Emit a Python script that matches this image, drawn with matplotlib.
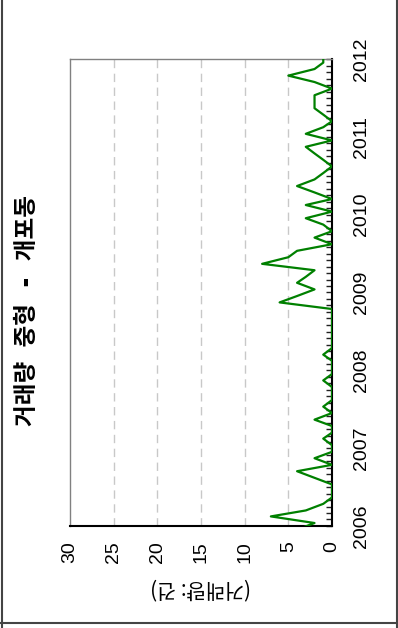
import matplotlib
matplotlib.use('Agg')
import matplotlib.pyplot as plt
import matplotlib.dates as mdates
import pandas as pd
from matplotlib.lines import Line2D

plt.rcParams['font.family'] = ['Liberation Sans', 'Noto Sans CJK KR', 'DejaVu Sans']

# ---- data (monthly transaction counts, first month = 2005-12) ----
first_month = '2005-12'
counts = [4,
          2, 7, 3, 1, 0, 0, 0, 2, 4, 0, 2, 0,      # 2006
          0, 1, 0, 0, 2, 0, 1, 0, 0, 0, 1, 0,      # 2007
          0, 0, 1, 0, 0, 0, 0, 0, 0, 0, 6, 4,      # 2008
          2, 4, 3, 2, 8, 5, 4, 0, 2, 0, 1, 3,      # 2009
          0, 3, 0, 2, 4, 2, 1, 0, 1, 2, 3, 0,      # 2010
          3, 1, 0, 1, 2, 2, 2, 0, 2, 5, 2, 1,      # 2011
          1]                                       # 2012-01
title = '거래량 중형 - 개포동'
ylabel = '(거래량: 건)'
value_ticks = [0, 5, 10, 15, 20, 25, 30]
year_ticks = [2006, 2007, 2008, 2009, 2010, 2011, 2012]

months = pd.period_range(first_month, periods=len(counts), freq='M')
dates = months.to_timestamp() + pd.Timedelta(days=14)

W, H = 398, 628
fig = plt.figure(figsize=(W / 100, H / 100), dpi=100)
ax = fig.add_axes([70 / W, (H - 526) / H, 262 / W, 467 / H])

for v in value_ticks[1:-1]:
    ax.axvline(v, color='#c8c8c8', lw=1.0, linestyle=(0, (6, 4)), zorder=1)

ax.plot(counts, dates, color='#008000', lw=1.6, zorder=3)

ax.set_xlim(value_ticks[-1], value_ticks[0])
ax.set_ylim(pd.Timestamp(f'{year_ticks[0]}-01-01'), pd.Timestamp(f'{year_ticks[-1]}-01-01'))

ax.set_xticks(value_ticks)
ax.set_xticklabels([str(v) for v in value_ticks], rotation=90, fontsize=14,
                   va='top', ha='center')
ax.tick_params(axis='x', length=0, pad=11)

ax.set_yticks([pd.Timestamp(f'{y}-01-01') for y in year_ticks])
ax.set_yticklabels([str(y) for y in year_ticks], rotation=90, fontsize=14,
                   va='center', ha='left')
ax.yaxis.set_minor_locator(mdates.MonthLocator())
ax.yaxis.tick_right()
ax.tick_params(axis='y', which='both', direction='in', length=4, width=1,
               color='#222222', pad=15)

for s in ['right', 'bottom']:
    ax.spines[s].set_color('black')
    ax.spines[s].set_linewidth(1.5)
for s in ['left', 'top']:
    ax.spines[s].set_color('#808080')
    ax.spines[s].set_linewidth(1.0)

fig.text(27 / W, 1 - 310 / H, title, rotation=90, ha='center', va='center',
         fontsize=17, fontweight='bold',
         family=['DejaVu Sans Mono', 'Noto Sans CJK KR', 'DejaVu Sans'])
fig.text(201 / W, 1 - 588 / H, ylabel, rotation=180, ha='center', va='center',
         fontsize=15, family=['Noto Sans CJK KR', 'DejaVu Sans'])

# outer frame (left, right, bottom)
fc = '#444444'
fig.add_artist(Line2D([1.5 / W, 1.5 / W], [0, 1], transform=fig.transFigure, color=fc, lw=1.5))
fig.add_artist(Line2D([396.5 / W, 396.5 / W], [0, 1], transform=fig.transFigure, color=fc, lw=1.5))
fig.add_artist(Line2D([0, 1], [(H - 623) / H] * 2, transform=fig.transFigure, color=fc, lw=1.5))

fig.savefig('out.png', dpi=100)
